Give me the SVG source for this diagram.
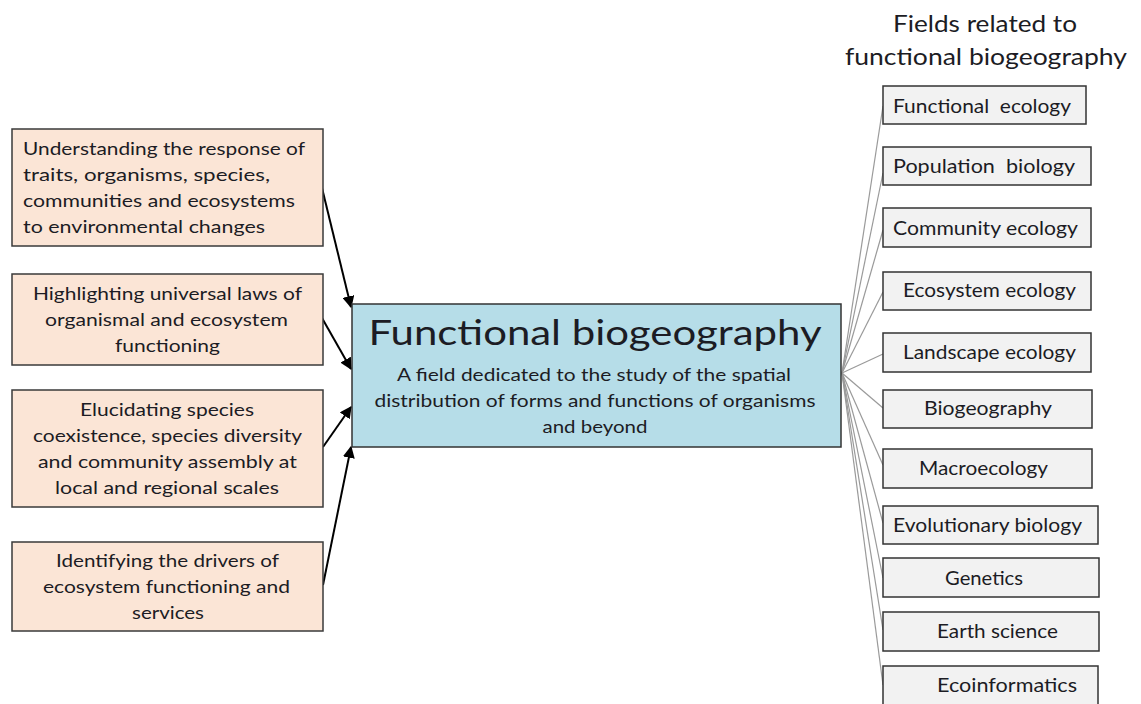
<svg xmlns="http://www.w3.org/2000/svg" width="1141" height="704" viewBox="0 0 1141 704">
<defs>
<style>
text{font-family:Lato,"Open Sans","Liberation Sans",sans-serif;fill:#1c1c24}
.goal rect{fill:#FBE5D6;stroke:#3a3a3a;stroke-width:1.5}
.goal text{font-size:18px}
.field rect{fill:#F2F2F2;stroke:#333;stroke-width:1.5}
.field text{font-size:19px;white-space:pre}
.arrow{stroke:#000;stroke-width:2;fill:none;marker-end:url(#ah)}
.thin{stroke:#9a9a9a;stroke-width:1.2;fill:none}
.head{font-size:23px}
</style>
<marker id="ah" viewBox="0 0 10 10" refX="9" refY="5" markerWidth="6" markerHeight="6" orient="auto" markerUnits="strokeWidth">
<path d="M0,0 L10,5 L0,10 z" fill="#000"/>
</marker>
</defs>
<rect width="1141" height="704" fill="#fff"/>

<g id="connectors">
<line class="arrow" x1="322" y1="188" x2="351" y2="307"/>
<line class="arrow" x1="322" y1="318" x2="351" y2="369"/>
<line class="arrow" x1="323" y1="447" x2="351" y2="407"/>
<line class="arrow" x1="323" y1="585" x2="351" y2="447"/>
<g class="thin">
<line x1="842" y1="373" x2="883" y2="106"/>
<line x1="842" y1="373" x2="883" y2="173"/>
<line x1="842" y1="373" x2="883" y2="230"/>
<line x1="842" y1="373" x2="883" y2="292"/>
<line x1="842" y1="373" x2="883" y2="354"/>
<line x1="842" y1="373" x2="883" y2="408"/>
<line x1="842" y1="373" x2="883" y2="465"/>
<line x1="842" y1="373" x2="883" y2="523"/>
<line x1="842" y1="373" x2="883" y2="578"/>
<line x1="842" y1="373" x2="883" y2="630"/>
<line x1="842" y1="373" x2="883" y2="685"/>
</g>
</g>

<g id="header">
<text class="head" x="985" y="32" text-anchor="middle" textLength="184" lengthAdjust="spacingAndGlyphs">Fields related to</text>
<text class="head" x="986" y="65" text-anchor="middle" textLength="282" lengthAdjust="spacingAndGlyphs">functional biogeography</text>
</g>

<g id="goal1" class="goal">
<rect x="12" y="129" width="311" height="117"/>
<text x="23" y="155" textLength="282" lengthAdjust="spacingAndGlyphs">Understanding the response of</text>
<text x="23" y="181" textLength="247" lengthAdjust="spacingAndGlyphs">traits, organisms, species,</text>
<text x="23" y="207" textLength="272" lengthAdjust="spacingAndGlyphs">communities and ecosystems</text>
<text x="23" y="233" textLength="242" lengthAdjust="spacingAndGlyphs">to environmental changes</text>
</g>
<g id="goal2" class="goal">
<rect x="12" y="274" width="311" height="91"/>
<text x="167.5" y="300" text-anchor="middle" textLength="269" lengthAdjust="spacingAndGlyphs">Highlighting universal laws of</text>
<text x="166.5" y="326" text-anchor="middle" textLength="243" lengthAdjust="spacingAndGlyphs">organismal and ecosystem</text>
<text x="167.5" y="352" text-anchor="middle" textLength="105" lengthAdjust="spacingAndGlyphs">functioning</text>
</g>
<g id="goal3" class="goal">
<rect x="12" y="390" width="311" height="117"/>
<text x="167" y="416" text-anchor="middle" textLength="174" lengthAdjust="spacingAndGlyphs">Elucidating species</text>
<text x="167.5" y="442" text-anchor="middle" textLength="269" lengthAdjust="spacingAndGlyphs">coexistence, species diversity</text>
<text x="167.5" y="468" text-anchor="middle" textLength="259" lengthAdjust="spacingAndGlyphs">and community assembly at</text>
<text x="167" y="494" text-anchor="middle" textLength="224" lengthAdjust="spacingAndGlyphs">local and regional scales</text>
</g>
<g id="goal4" class="goal">
<rect x="12" y="542" width="311" height="89"/>
<text x="167.5" y="567" text-anchor="middle" textLength="223" lengthAdjust="spacingAndGlyphs">Identifying the drivers of</text>
<text x="166.5" y="593" text-anchor="middle" textLength="247" lengthAdjust="spacingAndGlyphs">ecosystem functioning and</text>
<text x="168" y="619" text-anchor="middle" textLength="72" lengthAdjust="spacingAndGlyphs">services</text>
</g>

<g id="center">
<rect x="352" y="304" width="489" height="143" fill="#B6DDE8" stroke="#333" stroke-width="1.5"/>
<text x="595" y="345" text-anchor="middle" font-size="35" textLength="453" lengthAdjust="spacingAndGlyphs">Functional biogeography</text>
<text x="594" y="381" text-anchor="middle" font-size="17.5" textLength="394" lengthAdjust="spacingAndGlyphs">A field dedicated to the study of the spatial</text>
<text x="595" y="407" text-anchor="middle" font-size="17.5" textLength="441" lengthAdjust="spacingAndGlyphs">distribution of forms and functions of organisms</text>
<text x="595" y="433" text-anchor="middle" font-size="17.5" textLength="105" lengthAdjust="spacingAndGlyphs">and beyond</text>
</g>

<g id="f1" class="field"><rect x="883" y="86" width="203" height="38"/><text x="893" y="113" textLength="178" lengthAdjust="spacingAndGlyphs">Functional  ecology</text></g>
<g id="f2" class="field"><rect x="883" y="147" width="208" height="38"/><text x="893" y="173" textLength="182" lengthAdjust="spacingAndGlyphs">Population  biology</text></g>
<g id="f3" class="field"><rect x="883" y="208" width="208" height="39"/><text x="893" y="235" textLength="185" lengthAdjust="spacingAndGlyphs">Community ecology</text></g>
<g id="f4" class="field"><rect x="883" y="272" width="208" height="38"/><text x="903" y="297" textLength="173" lengthAdjust="spacingAndGlyphs">Ecosystem ecology</text></g>
<g id="f5" class="field"><rect x="883" y="333" width="208" height="39"/><text x="903" y="359" textLength="173" lengthAdjust="spacingAndGlyphs">Landscape ecology</text></g>
<g id="f6" class="field"><rect x="883" y="390" width="209" height="38"/><text x="924" y="415" textLength="128" lengthAdjust="spacingAndGlyphs">Biogeography</text></g>
<g id="f7" class="field"><rect x="883" y="449" width="209" height="39"/><text x="919" y="475" textLength="129" lengthAdjust="spacingAndGlyphs">Macroecology</text></g>
<g id="f8" class="field"><rect x="883" y="506" width="215" height="38"/><text x="893" y="532" textLength="189" lengthAdjust="spacingAndGlyphs">Evolutionary biology</text></g>
<g id="f9" class="field"><rect x="883" y="558" width="216" height="39"/><text x="945" y="585" textLength="78" lengthAdjust="spacingAndGlyphs">Genetics</text></g>
<g id="f10" class="field"><rect x="883" y="612" width="216" height="39"/><text x="937" y="638" textLength="121" lengthAdjust="spacingAndGlyphs">Earth science</text></g>
<g id="f11" class="field"><rect x="883" y="666" width="215" height="40"/><text x="937" y="692" textLength="140" lengthAdjust="spacingAndGlyphs">Ecoinformatics</text></g>
</svg>
